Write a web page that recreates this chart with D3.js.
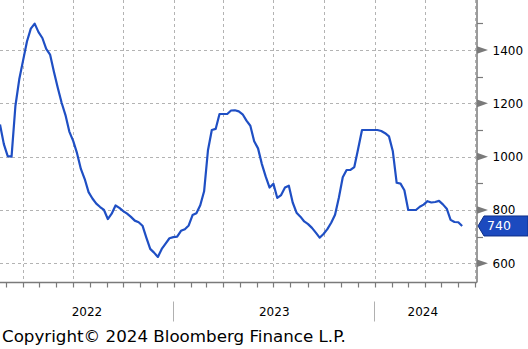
<!DOCTYPE html>
<html>
<head>
<meta charset="utf-8">
<script src="https://cdn.jsdelivr.net/npm/d3@7"></script>
<style>
  body { margin: 0; background: #fff; }
  svg { display: block; }
  text { font-family: "DejaVu Sans", Verdana, sans-serif; }
</style>
</head>
<body>
<svg id="chart" width="528" height="349"></svg>
<script>
// Weekly series, first observation on the start date
const startDate = "2022-02-19";
const axisStart = "2022-02-19";
const axisEnd = "2024-07-05";
const values = [
  1121, 1047, 1002, 1000, 1190, 1290, 1361, 1432, 1480, 1499,
  1467, 1445, 1404, 1383, 1318, 1258, 1202, 1156, 1094, 1059,
  1013, 954, 916, 867, 843, 824, 811, 800, 766, 786,
  817, 808, 796, 786, 774, 760, 754, 741, 696, 654,
  640, 624, 654, 674, 694, 698, 700, 722, 728, 742,
  781, 788, 818, 870, 1024, 1100, 1104, 1160, 1160, 1160,
  1173, 1174, 1170, 1159, 1135, 1116, 1058, 1031, 972, 925,
  884, 898, 845, 856, 884, 891, 828, 790, 775, 757,
  747, 733, 715, 696, 710, 728, 752, 782, 847, 923,
  950, 950, 961, 1030, 1100, 1100, 1100, 1100, 1100, 1096,
  1088, 1076, 1020, 902, 899, 874, 800, 800, 800, 812,
  820, 833, 828, 830, 834, 821, 805, 763, 755, 754,
  740
];
const yMajor = [600, 800, 1000, 1200, 1400];
const yMinor = [700, 900, 1100, 1300, 1500];
const yearLabels = ["2022", "2023", "2024"];
const lastLabel = "740";
const copyright = "Copyright\u00A9 2024 Bloomberg Finance L.P.";

const parse = d3.utcParse("%Y-%m-%d");
const t0 = parse(startDate);
const data = values.map((v, i) => ({ date: d3.utcWeek.offset(t0, i), value: v }));

const W = 528, H = 349;
const plot = { left: 0, right: 477, top: 0, bottom: 282.5 };

const svg = d3.select("#chart");

const x = d3.scaleUtc()
  .domain([parse(axisStart), parse(axisEnd)])
  .range([plot.left, plot.right]);

const y = d3.scaleLinear()
  .domain([600, 1400])
  .range([263.3, 50]);

const gridColor = "#b3b3b3";
const axisColor = "#7a7a7a";

// Horizontal dashed gridlines at labelled values
svg.append("g").selectAll("line").data(yMajor).join("line")
  .attr("x1", plot.left).attr("x2", plot.right)
  .attr("y1", d => Math.round(y(d)) + 0.5).attr("y2", d => Math.round(y(d)) + 0.5)
  .attr("stroke", gridColor).attr("stroke-width", 1)
  .attr("stroke-dasharray", "3,3");

// Quarterly vertical dashed gridlines
const months = d3.utcMonth.range(d3.utcMonth.ceil(x.domain()[0]), x.domain()[1]);
const quarters = months.filter(d => d.getUTCMonth() % 3 === 0);
svg.append("g").selectAll("line").data(quarters).join("line")
  .attr("x1", d => Math.round(x(d)) + 0.5).attr("x2", d => Math.round(x(d)) + 0.5)
  .attr("y1", plot.top).attr("y2", plot.bottom)
  .attr("stroke", gridColor).attr("stroke-width", 1)
  .attr("stroke-dasharray", "3,3");

// Series line
const line = d3.line()
  .x(d => x(d.date))
  .y(d => y(d.value));

svg.append("defs").append("clipPath").attr("id", "plotClip")
  .append("rect").attr("x", plot.left).attr("y", plot.top)
  .attr("width", plot.right - plot.left).attr("height", plot.bottom - plot.top);

svg.append("path")
  .datum(data)
  .attr("clip-path", "url(#plotClip)")
  .attr("fill", "none")
  .attr("stroke", "#1f4fc4")
  .attr("stroke-width", 2.2)
  .attr("stroke-linejoin", "round")
  .attr("d", line);

// Bottom axis with monthly ticks
svg.append("line")
  .attr("x1", plot.left).attr("x2", plot.right)
  .attr("y1", plot.bottom).attr("y2", plot.bottom)
  .attr("stroke", axisColor).attr("stroke-width", 1.3);

svg.append("g").selectAll("line").data(months).join("line")
  .attr("x1", d => Math.round(x(d)) + 0.5).attr("x2", d => Math.round(x(d)) + 0.5)
  .attr("y1", plot.bottom).attr("y2", plot.bottom + 5)
  .attr("stroke", axisColor).attr("stroke-width", 1.2);

// Year separators and centred year labels
const yearStarts = months.filter(d => d.getUTCMonth() === 0);
svg.append("g").selectAll("line").data(yearStarts).join("line")
  .attr("x1", d => Math.round(x(d)) - 0.5).attr("x2", d => Math.round(x(d)) - 0.5)
  .attr("y1", 301.5).attr("y2", 321.5)
  .attr("stroke", "#b0b0b0").attr("stroke-width", 1);

const bounds = [plot.left, ...yearStarts.map(d => x(d)), plot.right - 6];
svg.append("g").selectAll("text").data(yearLabels).join("text")
  .attr("x", (d, i) => (bounds[i] + bounds[i + 1]) / 2)
  .attr("y", 316)
  .attr("text-anchor", "middle")
  .attr("font-size", 12)
  .attr("fill", "#000")
  .text(d => d);

// Right value axis
svg.append("line")
  .attr("x1", plot.right).attr("x2", plot.right)
  .attr("y1", plot.top).attr("y2", plot.bottom)
  .attr("stroke", axisColor).attr("stroke-width", 1.5);

svg.append("g").selectAll("line").data(yMinor).join("line")
  .attr("x1", plot.right).attr("x2", plot.right + 6)
  .attr("y1", d => Math.round(y(d)) + 0.5).attr("y2", d => Math.round(y(d)) + 0.5)
  .attr("stroke", axisColor).attr("stroke-width", 1.2);

svg.append("g").selectAll("path").data(yMajor).join("path")
  .attr("d", d => {
    const yy = y(d);
    return `M${plot.right},${yy - 3.8}L${plot.right + 11},${yy}L${plot.right},${yy + 3.8}Z`;
  })
  .attr("fill", axisColor);

svg.append("g").selectAll("text").data(yMajor).join("text")
  .attr("x", plot.right + 15.5)
  .attr("y", d => y(d) + 4.5)
  .attr("font-size", 12)
  .attr("fill", "#000")
  .text(d => d);

// Last value marker
const last = data[data.length - 1];
const ly = y(last.value);
svg.append("path")
  .attr("d", `M${plot.right + 1},${ly}L${plot.right + 7},${ly - 10}L${W},${ly - 10}L${W},${ly + 10}L${plot.right + 7},${ly + 10}Z`)
  .attr("fill", "#1c4abf")
  .attr("stroke", "#0f2f86")
  .attr("stroke-width", 1);
svg.append("text")
  .attr("x", plot.right + 10)
  .attr("y", ly + 4.5)
  .attr("font-size", 12.5)
  .attr("fill", "#fff")
  .text(lastLabel);

// Source line
svg.append("text")
  .attr("x", 2)
  .attr("y", 342)
  .attr("font-size", 16.7)
  .attr("fill", "#000")
  .text(copyright);
</script>
</body>
</html>
